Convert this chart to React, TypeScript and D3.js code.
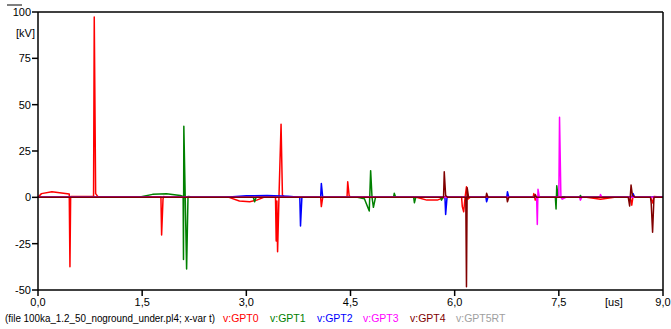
import * as d3 from "d3"

// time in us, value in kV
const gpt0: [number, number][] = [
  [0, 0], [0.05, 2], [0.2, 3], [0.45, 1.8], [0.46, -37.4], [0.47, 0.5], [0.8, 0.5], [0.81, 97.3],
  [0.83, 2], [0.86, 0.5], [1.77, 0.3], [1.78, -20.3], [1.8, -1], [1.81, 0.5], [1.83, 0], [2.75, 0],
  [2.9, -2], [3.05, -2.4], [3.15, -1.5], [3.25, 0], [3.42, 0], [3.43, -23.5], [3.44, -2], [3.45, -29.3],
  [3.47, 0], [3.5, 39.5], [3.52, 1], [3.56, 0], [4.07, 0], [4.08, -5], [4.1, 0], [4.45, 0], [4.46, 8.4],
  [4.48, 1], [4.5, 0], [5.45, 0], [5.6, -1.5], [5.75, -1.5], [5.85, 0], [6.1, 0], [6.11, -5], [6.13, -7.8],
  [6.15, 0], [6.17, 5.7], [6.19, -1], [6.22, 0], [7.13, 0], [7.14, 2], [7.16, -1.5], [7.18, 0], [7.9, 0],
  [8.1, -1], [8.3, 0], [8.53, 0], [8.55, -4.2], [8.57, 1], [8.6, 0], [8.82, 0], [8.85, -3], [8.87, 0.5], [9, 0]
]
const gpt1: [number, number][] = [
  [0, 0], [1.45, 0], [1.65, 1.6], [1.85, 1.9], [2.05, 1], [2.09, 0.5], [2.095, -33.5], [2.1, 38.4],
  [2.12, 0], [2.14, -38.7], [2.16, 0.5], [2.2, 0.3], [3.1, 0], [3.12, -2.4], [3.14, 0], [4.6, 0],
  [4.7, -0.8], [4.77, -7.4], [4.79, 14.4], [4.81, 0], [4.83, -5.4], [4.86, 0], [5.12, 0], [5.13, 2.2],
  [5.15, 0], [5.41, 0], [5.42, -2.9], [5.44, 0], [5.8, 0], [5.81, -1.5], [5.83, 0], [7.45, 0], [7.46, -6.3],
  [7.47, 6.3], [7.49, 0], [7.8, 0], [7.81, 1], [7.83, 0], [9, 0]
]
const gpt2: [number, number][] = [
  [0, 0], [2.7, 0], [3.0, 0.8], [3.3, 1], [3.6, 0.6], [3.77, 0], [3.78, -15.5], [3.8, 0], [4.07, 0],
  [4.08, 7.5], [4.1, 0], [5.86, 0], [5.87, -9.2], [5.89, 0], [6.45, 0], [6.46, -2.4], [6.48, 0], [6.75, 0],
  [6.76, 3], [6.78, 0], [8.55, 0], [8.57, 2], [8.59, 0], [9, 0]
]
const gpt3: [number, number][] = [
  [0, 0], [7.18, 0], [7.19, -14.6], [7.2, 4.3], [7.22, 0], [7.5, 0], [7.51, 43.2], [7.53, 0], [7.55, -1],
  [7.6, 0], [7.8, 0], [7.81, -1.5], [7.83, 0], [8.09, 0], [8.1, 1.5], [8.12, 0], [9, 0]
]
const gpt4: [number, number][] = [
  [0, 0], [5.84, 0], [5.85, 13.8], [5.87, 1], [5.9, 0], [6.16, 0], [6.17, -48.2], [6.18, 5.2], [6.2, 0],
  [6.45, 0], [6.46, 2.2], [6.48, 0], [6.75, 0], [6.76, -2.4], [6.78, 0], [7.15, 0], [7.16, 1.5], [7.18, 0],
  [8.5, 0], [8.52, -4.7], [8.54, 6.6], [8.56, 1], [8.6, 0], [8.82, 0], [8.83, -3.2], [8.85, -18.8], [8.87, 0], [9, 0]
]
const gpt5rt: [number, number][] = [[0, 0], [9, 0]]

const seriesNames = ["v:GPT0", "v:GPT1", "v:GPT2", "v:GPT3", "v:GPT4", "v:GPT5RT"]
const seriesColors = ["#ff0000", "#008000", "#0000ff", "#ff00ff", "#800000", "#a0a0a0"]
const xTicks = [0, 1.5, 3, 4.5, 6, 7.5, 9]
const yTicks = [100, 75, 50, 25, 0, -25, -50]

export default function App() {
  const width = 671
  const height = 329
  const left = 38
  const right = 663
  const top = 12
  const bottom = 290

  const x = d3.scaleLinear().domain([0, 9]).range([left, right])
  const y = d3.scaleLinear().domain([-50, 100]).range([bottom, top])
  const line = d3.line<[number, number]>().x(d => x(d[0])).y(d => y(d[1]))

  const all = [gpt0, gpt1, gpt2, gpt3, gpt4, gpt5rt]
  // grey one drawn first so it stays under the others
  const order = [5, 0, 1, 2, 3, 4]
  const legendX = [223, 270, 317, 363, 410, 456]
  const font = "'Liberation Sans', Arial, sans-serif"

  return (
    <svg width={width} height={height} style={{ position: "absolute", left: 0, top: 0 }}
      fontFamily={font} fontSize={11}>
      <rect width={width} height={height} fill="#fff" />
      <g fill="none" strokeWidth={1.5} strokeLinejoin="round">
        {order.map(i => (
          <path key={i} d={line(all[i]) || ""} stroke={seriesColors[i]} />
        ))}
      </g>
      <g stroke="#000" strokeWidth={1.5} fill="none">
        <line x1={left} x2={left} y1={top} y2={bottom} />
        <line x1={left} x2={right} y1={bottom} y2={bottom} />
        <line x1={left} x2={right} y1={top} y2={top} />
        <line x1={right} x2={right} y1={top} y2={bottom} />
        <line x1={7} x2={22} y1={5} y2={5} strokeWidth={1} />
        {yTicks.map(t => <line key={t} x1={left - 6} x2={left} y1={y(t)} y2={y(t)} />)}
        {xTicks.map(t => <line key={t} x1={x(t)} x2={x(t)} y1={bottom} y2={bottom + 6} />)}
      </g>
      {yTicks.map(t => (
        <text key={t} x={left - 7} y={y(t) + 4} textAnchor="end">{t}</text>
      ))}
      <text x={16} y={37}>[kV]</text>
      {xTicks.map(t => (
        <text key={t} x={x(t)} y={306} textAnchor="middle">{d3.format(".1f")(t).replace(".", ",")}</text>
      ))}
      <text x={605} y={306}>[us]</text>
      <text x={5} y={322} fontSize={10} textLength={210} lengthAdjust="spacingAndGlyphs">(file 100ka_1.2_50_noground_under.pl4; x-var t)</text>
      {seriesNames.map((n, i) => (
        <text key={n} x={legendX[i]} y={322} fontSize={10.5} fill={seriesColors[i]}>{n}</text>
      ))}
    </svg>
  )
}
